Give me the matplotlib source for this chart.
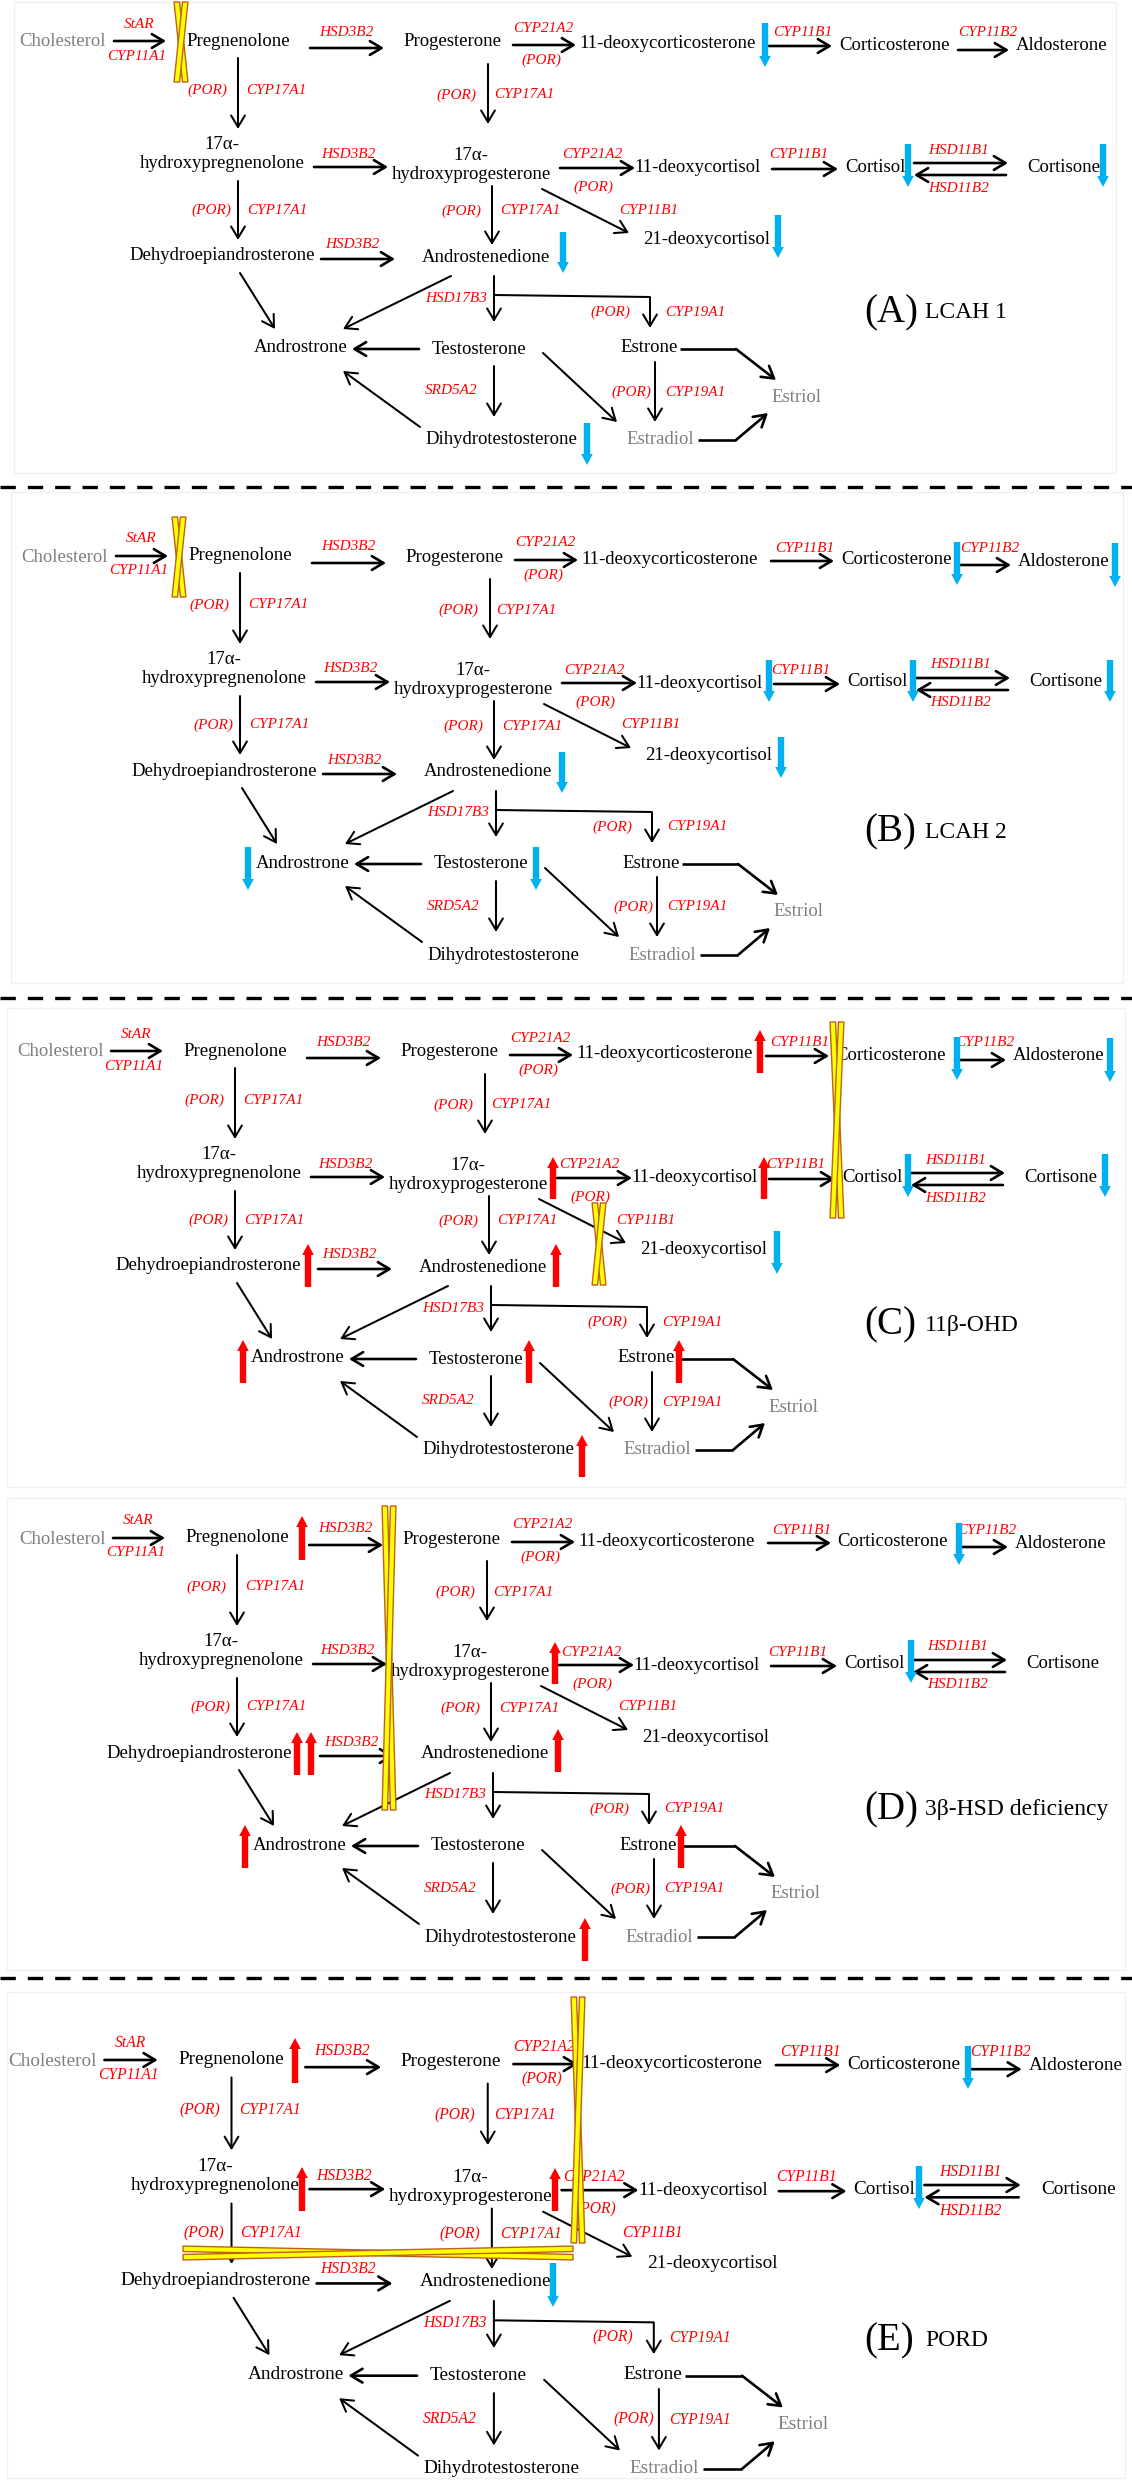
import matplotlib
matplotlib.use("Agg")
import matplotlib.pyplot as plt
from matplotlib.patches import Polygon, Rectangle

plt.rcParams["font.family"] = ["Liberation Serif", "DejaVu Serif"]

W, H = 1132, 2481

# ---------------- data ----------------
node_names = ["Cholesterol", "Pregnenolone", "Progesterone", "11-deoxycorticosterone",
              "Corticosterone", "Aldosterone", "17\u03b1-\nhydroxypregnenolone",
              "17\u03b1-\nhydroxyprogesterone", "11-deoxycortisol", "Cortisol", "Cortisone",
              "Dehydroepiandrosterone", "Androstenedione", "21-deoxycortisol", "Androstrone",
              "Testosterone", "Estrone", "Estriol", "Dihydrotestosterone", "Estradiol"]
gray_nodes = ["Cholesterol", "Estriol", "Estradiol"]

enzyme_text = ["StAR", "CYP11A1", "HSD3B2", "CYP21A2", "(POR)", "CYP11B1", "CYP11B2",
               "(POR)", "CYP17A1", "(POR)", "CYP17A1", "HSD3B2", "CYP21A2", "(POR)",
               "CYP11B1", "HSD11B1", "HSD11B2", "(POR)", "CYP17A1", "(POR)", "CYP17A1",
               "CYP11B1", "HSD3B2", "HSD17B3", "(POR)", "CYP19A1", "SRD5A2", "(POR)", "CYP19A1"]

panel_letters = ["(A)", "(B)", "(C)", "(D)", "(E)"]
panel_titles = ["LCAH 1", "LCAH 2", "11\u03b2-OHD", "3\u03b2-HSD deficiency", "PORD"]

# level changes per panel: (metabolite, direction)
marker_nodes = {
    "A": [("11-deoxycorticosterone", "down"), ("Cortisol", "down"), ("Cortisone", "down"),
          ("21-deoxycortisol", "down"), ("Androstenedione", "down"), ("Dihydrotestosterone", "down")],
    "B": [("Corticosterone", "down"), ("Aldosterone", "down"), ("11-deoxycortisol", "down"),
          ("Cortisol", "down"), ("Cortisone", "down"), ("21-deoxycortisol", "down"),
          ("Androstenedione", "down"), ("Androstrone", "down"), ("Testosterone", "down")],
    "C": [("11-deoxycorticosterone", "up"), ("Corticosterone", "down"), ("Aldosterone", "down"),
          ("17a-hydroxyprogesterone", "up"), ("11-deoxycortisol", "up"), ("Cortisol", "down"),
          ("Cortisone", "down"), ("Dehydroepiandrosterone", "up"), ("Androstenedione", "up"),
          ("21-deoxycortisol", "down"), ("Androstrone", "up"), ("Testosterone", "up"),
          ("Estrone", "up"), ("Dihydrotestosterone", "up")],
    "D": [("Pregnenolone", "up"), ("Corticosterone", "down"), ("17a-hydroxyprogesterone", "up"),
          ("Cortisol", "down"), ("Dehydroepiandrosterone", "up"), ("Dehydroepiandrosterone", "up"),
          ("Androstenedione", "up"), ("Androstrone", "up"), ("Estrone", "up"),
          ("Dihydrotestosterone", "up")],
    "E": [("Pregnenolone", "up"), ("Corticosterone", "down"), ("17a-hydroxypregnenolone", "up"),
          ("17a-hydroxyprogesterone", "up"), ("Cortisol", "down"), ("Androstenedione", "down")],
}

# ---------------- layout (template = panel B pixel coordinates) ----------------
node_xy = [(65, 557), (240, 556), (454, 557), (670, 559), (896, 560), (1064, 561),
           (224, 669), (473, 680), (700, 683), (877, 682), (1066, 682),
           (224, 771), (488, 772), (709, 755), (303, 863), (481, 864), (651, 863),
           (798, 912), (503, 955), (662, 955)]

edge_paths = [
    [(116, 556), (168, 556)], [(312, 563), (386, 563)], [(515, 560), (578, 560)],
    [(771, 561), (834, 561)], [(960, 565), (1011, 565)], [(316, 682), (390, 682)],
    [(562, 683), (637, 683)], [(774, 684), (840, 684)], [(916, 678), (1010, 678)],
    [(1008, 690), (916, 690)], [(323, 774), (397, 774)], [(421, 864), (354, 864)],
    [(682, 864), (738, 864), (778, 895)], [(700, 955), (738, 955), (770, 928)],
    [(240, 573), (240, 644)], [(490, 579), (490, 639)], [(240, 696), (240, 755)],
    [(494, 701), (494, 760)], [(544, 704), (631, 748)], [(242, 788), (277, 844)],
    [(453, 791), (345, 844)], [(496, 791), (496, 837)], [(496, 810), (652, 812), (652, 843)],
    [(496, 881), (496, 932)], [(422, 942), (345, 886)], [(545, 868), (619, 937)],
    [(657, 877), (657, 937)],
]
edge_thick = [True] * 14 + [False] * 13

enzyme_xy = [(141, 539), (139, 571), (348, 547), (545, 543), (543, 575), (805, 548), (990, 548),
             (209, 605), (278, 605), (458, 610), (526, 610), (350, 669), (594, 670), (595, 702),
             (801, 670), (961, 665), (961, 703), (213, 725), (279, 725), (463, 726), (532, 726),
             (651, 725), (354, 760), (458, 813), (612, 827), (697, 827), (453, 906), (633, 907),
             (697, 907)]

panel_ids = ["A", "B", "C", "D", "E"]
panel_dx = [-2, 0, -5, -3, 0]
panel_dy = [-515, 0, 495, 982, 1504]
panel_scale = [1.0, 1.0, 1.0, 1.0, 1.025]
panel_node_shift = [{}, {}, {"Dehydroepiandrosterone": -11}, {"Dehydroepiandrosterone": -22}, {}]
title_y = [313, 832, 1325, 1810, 2341]

marker_xy = {
    "A": [(765, 23, 67), (908, 144, 187), (1103, 144, 187), (778, 215, 258), (563, 232, 273),
          (587, 423, 465)],
    "B": [(957, 542, 585), (1115, 543, 587), (769, 660, 702), (913, 660, 702), (1110, 660, 702),
          (781, 737, 778), (562, 752, 793), (248, 847, 890), (536, 847, 890)],
    "C": [(760, 1030, 1073), (957, 1037, 1080), (1110, 1038, 1082), (553, 1157, 1199),
          (764, 1157, 1199), (908, 1154, 1197), (1105, 1154, 1197), (308, 1244, 1287),
          (556, 1244, 1287), (777, 1231, 1274), (243, 1340, 1383), (529, 1340, 1383),
          (679, 1340, 1383), (582, 1435, 1477)],
    "D": [(302, 1516, 1560), (959, 1523, 1565), (555, 1642, 1684), (911, 1640, 1683),
          (297, 1732, 1775), (311, 1732, 1775), (558, 1729, 1772), (245, 1825, 1868),
          (681, 1825, 1868), (585, 1918, 1961)],
    "E": [(295, 2038, 2083), (968, 2046, 2089), (302, 2167, 2211), (555, 2168, 2211),
          (919, 2166, 2209), (553, 2263, 2307)],
}

# blocked steps: (x centre, y centre, half length, orientation)
blocks = {
    "A": [(181, 42, 40, "v")],
    "B": [(179, 557, 40, "v")],
    "C": [(837, 1120, 98, "v"), (599, 1244, 41, "v")],
    "D": [(389, 1658, 152, "v")],
    "E": [(578, 2120, 123, "v"), (378, 2253, 195, "h")],
}

separators_y = [487, 998, 1978]
panel_boxes = [(14, 2, 1116, 473), (11, 492, 1123, 983), (7, 1008, 1125, 1487),
               (7, 1498, 1125, 1970), (7, 1992, 1125, 2478)]

RED = "#ff0000"
BLUE = "#00b0f0"
GRAY = "#7f7f7f"

# ---------------- drawing ----------------
fig = plt.figure(figsize=(W / 100, H / 100), dpi=100)
ax = fig.add_axes([0, 0, 1, 1])
ax.set_xlim(0, W)
ax.set_ylim(H, 0)
ax.axis("off")


def tf(i, x, y):
    s = panel_scale[i]
    return 580 + s * (x - 580) + panel_dx[i], 557 + s * (y - 557) + panel_dy[i]


def draw_arrow(pts, lw):
    if len(pts) > 2:
        xs = [p[0] for p in pts[:-1]]
        ys = [p[1] for p in pts[:-1]]
        ax.plot(xs, ys, color="black", lw=lw, solid_capstyle="butt", solid_joinstyle="miter")
    ax.annotate("", xy=pts[-1], xytext=pts[-2],
                arrowprops=dict(arrowstyle="->,head_length=0.52,head_width=0.31", lw=lw,
                                color="black", shrinkA=0, shrinkB=0, mutation_scale=16))


def draw_marker(x, ytop, ybot, up):
    w, hw, hl = 3.2, 5.8, 11
    if up:
        tip, base, tail = ytop, ytop + hl, ybot
    else:
        tip, base, tail = ybot, ybot - hl, ytop
    poly = [(x - w, tail), (x - w, base), (x - hw, base), (x, tip), (x + hw, base),
            (x + w, base), (x + w, tail)]
    ax.add_patch(Polygon(poly, closed=True, facecolor=RED if up else BLUE,
                         edgecolor="none", zorder=4))


def draw_block(xc, yc, L, orient, d=4.2, t=5.5):
    for sg in (1, -1):
        pts = [(-sg * d - t / 2, -L), (-sg * d + t / 2, -L), (sg * d + t / 2, L),
               (sg * d - t / 2, L)]
        if orient == "v":
            pts = [(xc + a, yc + b) for a, b in pts]
        else:
            pts = [(xc + b, yc + a) for a, b in pts]
        ax.add_patch(Polygon(pts, closed=True, facecolor="#ffff00", edgecolor="#c0601a",
                             lw=1.0, zorder=6))


for (x0, y0, x1, y1) in panel_boxes:
    ax.add_patch(Rectangle((x0, y0), x1 - x0, y1 - y0, fill=False, edgecolor="#f0f0f0",
                           lw=1.0, zorder=0))

for y in separators_y:
    ax.plot([0, W], [y, y], color="black", lw=2.4, dashes=(4.6, 3.6), solid_capstyle="butt")

for i, pid in enumerate(panel_ids):
    s = panel_scale[i]
    for name, (x, y) in zip(node_names, node_xy):
        X, Y = tf(i, x + panel_node_shift[i].get(name, 0), y)
        ax.text(X, Y, name, fontsize=13.5 * s, ha="center", va="center",
                multialignment="center", linespacing=1.15,
                color=GRAY if name in gray_nodes else "black", zorder=3)
    for path, thick in zip(edge_paths, edge_thick):
        draw_arrow([tf(i, x, y) for x, y in path], 1.9 if thick else 1.45)
    for txt, (x, y) in zip(enzyme_text, enzyme_xy):
        X, Y = tf(i, x, y)
        ax.text(X, Y, txt, fontsize=11 * s, style="italic", color=RED, ha="center",
                va="center", zorder=3)
    for (node, direction), (x, yt, yb) in zip(marker_nodes[pid], marker_xy[pid]):
        draw_marker(x, yt, yb, direction == "up")
    for (xc, yc, L, o) in blocks[pid]:
        draw_block(xc, yc, L, o)
    ax.text(864, title_y[i], panel_letters[i], fontsize=28, ha="left", va="center")
    ax.text(925, title_y[i], panel_titles[i], fontsize=17, ha="left", va="center")

fig.savefig("out.png", dpi=100, facecolor="white")
